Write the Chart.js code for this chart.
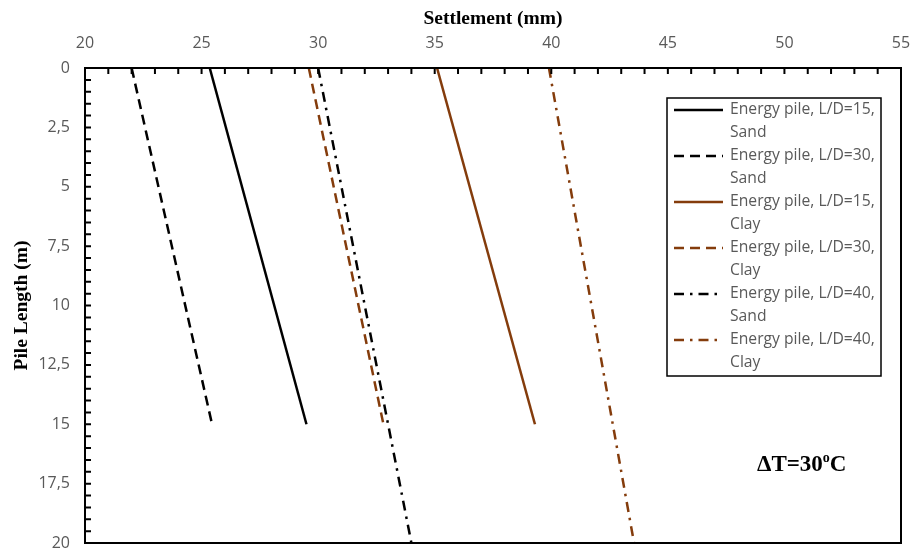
<!DOCTYPE html>
<html>
<head>
<meta charset="utf-8">
<script src="https://cdn.jsdelivr.net/npm/chart.js@4.4.0/dist/chart.umd.min.js"></script>
<style>
  html, body { margin: 0; padding: 0; background: #fff; }
  #wrap { width: 915px; height: 551px; }
</style>
</head>
<body>
<div id="wrap"><canvas id="chart"></canvas></div>
<script>
// pile depth (m) at each end of the lines
const depth15 = [0, 15];
const depth20 = [0, 20];

// settlement (mm)
const sandLD15 = [25.35, 29.5];
const sandLD30 = [22.0, 25.45];
const clayLD15 = [35.1, 39.3];
const clayLD30 = [29.6, 32.8];
const sandLD40 = [30.0, 34.0];
const clayLD40 = [39.9, 43.55];

const labels = [
    "Energy pile, L/D=15,\nSand",
    "Energy pile, L/D=30,\nSand",
    "Energy pile, L/D=15,\nClay",
    "Energy pile, L/D=30,\nClay",
    "Energy pile, L/D=40,\nSand",
    "Energy pile, L/D=40,\nClay"
];

const black = "#000000";
const brown = "#843C0C";
const grey = "#595959";
const dash = [10, 6];
const dashDot = [10, 6, 2.5, 6];

function toPoints(xs, ys) {
    return xs.map((x, i) => ({ x: x, y: ys[i] }));
}

function makeSet(label, xs, ys, color, pattern) {
    return {
        label: label,
        data: toPoints(xs, ys),
        showLine: true,
        borderColor: color,
        backgroundColor: color,
        borderWidth: 2.5,
        borderDash: pattern,
        pointRadius: 0,
        fill: false
    };
}

const datasets = [
    makeSet(labels[0], sandLD15, depth15, black, []),
    makeSet(labels[1], sandLD30, depth15, black, dash),
    makeSet(labels[2], clayLD15, depth15, brown, []),
    makeSet(labels[3], clayLD30, depth15, brown, dash),
    makeSet(labels[4], sandLD40, depth20, black, dashDot),
    makeSet(labels[5], clayLD40, depth20, brown, dashDot)
];

const tickFont = { family: "'Open Sans', sans-serif", size: 16 };
const titleFont = { family: "'Liberation Serif', serif", size: 19.5, weight: "bold" };

// frame, inward tick marks, legend box and the delta T note
const decorations = {
    id: "decorations",
    afterDraw(chart) {
        const ctx = chart.ctx;
        const area = chart.chartArea;
        const xs = chart.scales.x;
        const ys = chart.scales.y;
        ctx.save();

        ctx.strokeStyle = "#000";
        ctx.lineWidth = 2;
        ctx.setLineDash([]);
        ctx.strokeRect(area.left, area.top, area.right - area.left, area.bottom - area.top);

        ctx.beginPath();
        xs.ticks.forEach(t => {
            const px = xs.getPixelForValue(t.value);
            ctx.moveTo(px, area.top);
            ctx.lineTo(px, area.top + 6);
        });
        ys.ticks.forEach(t => {
            const py = ys.getPixelForValue(t.value);
            ctx.moveTo(area.left, py);
            ctx.lineTo(area.left + 6, py);
        });
        ctx.stroke();

        // legend
        const box = { left: 667, top: 98, right: 881, bottom: 376 };
        ctx.fillStyle = "#fff";
        ctx.fillRect(box.left, box.top, box.right - box.left, box.bottom - box.top);
        ctx.lineWidth = 1.5;
        ctx.strokeStyle = "#000";
        ctx.strokeRect(box.left, box.top, box.right - box.left, box.bottom - box.top);

        ctx.font = "15.7px 'Open Sans', sans-serif";
        ctx.textBaseline = "middle";
        ctx.textAlign = "left";
        chart.data.datasets.forEach((ds, i) => {
            const y = box.top + 12 + i * 46;
            ctx.beginPath();
            ctx.strokeStyle = ds.borderColor;
            ctx.lineWidth = ds.borderWidth;
            ctx.setLineDash(ds.borderDash);
            ctx.moveTo(674, y);
            ctx.lineTo(723, y);
            ctx.stroke();
            ctx.setLineDash([]);
            ctx.fillStyle = grey;
            ds.label.split("\n").forEach((line, j) => {
                ctx.fillText(line, 730, y + j * 23);
            });
        });

        // delta T note
        ctx.fillStyle = "#000";
        ctx.textBaseline = "alphabetic";
        ctx.font = "bold 23px 'Liberation Serif', serif";
        let x = 757;
        const base = 471;
        const main = "\u0394T=30";
        ctx.fillText(main, x, base);
        x += ctx.measureText(main).width;
        ctx.font = "bold 14px 'Liberation Serif', serif";
        ctx.fillText("o", x, base - 9);
        x += ctx.measureText("o").width;
        ctx.font = "bold 23px 'Liberation Serif', serif";
        ctx.fillText("C", x, base);

        ctx.restore();
    }
};

new Chart("chart", {
    type: "scatter",
    data: { datasets: datasets },
    options: {
        responsive: true,
        maintainAspectRatio: false,
        animation: false,
        layout: { padding: { top: 4, right: 14, bottom: 8, left: 0 } },
        plugins: {
            legend: { display: false },
            tooltip: { enabled: false }
        },
        scales: {
            x: {
                type: "linear",
                position: "top",
                min: 20,
                max: 55,
                grid: { display: false, drawTicks: false },
                border: { display: false },
                ticks: {
                    stepSize: 1,
                    autoSkip: false,
                    maxRotation: 0,
                    color: grey,
                    font: tickFont,
                    padding: 15,
                    callback: v => (v % 5 === 0 ? String(v) : "")
                },
                title: {
                    display: true,
                    text: "Settlement (mm)",
                    color: "#000",
                    font: titleFont,
                    padding: { top: 3, bottom: 0 }
                },
                afterFit: scale => {
                    scale.height = 64;
                    scale.paddingLeft = 0;
                    scale.paddingRight = 0;
                }
            },
            y: {
                type: "linear",
                reverse: true,
                min: 0,
                max: 20,
                grid: { display: false, drawTicks: false },
                border: { display: false },
                ticks: {
                    stepSize: 0.5,
                    autoSkip: false,
                    color: grey,
                    font: tickFont,
                    padding: 15,
                    callback: v => (v % 2.5 === 0 ? String(v).replace(".", ",") : "")
                },
                title: {
                    display: true,
                    text: "Pile Length (m)",
                    color: "#000",
                    font: titleFont,
                    padding: { top: 10, bottom: 0 }
                },
                afterFit: scale => {
                    scale.width = 85;
                    scale.paddingTop = 0;
                    scale.paddingBottom = 0;
                }
            }
        }
    },
    plugins: [decorations]
});
</script>
</body>
</html>
